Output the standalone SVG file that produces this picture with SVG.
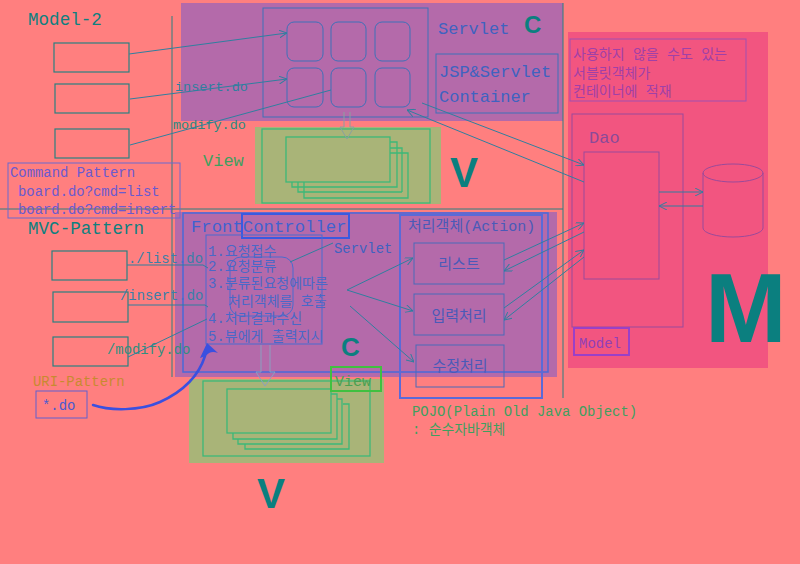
<svg xmlns="http://www.w3.org/2000/svg" width="800" height="564" viewBox="0 0 800 564">
<style>
.mono{font-family:"Liberation Mono","Noto Sans CJK KR",monospace}
.big{font-family:"Liberation Sans",Arial,sans-serif;font-weight:bold;fill:#0b7f7f}
.ln{stroke:#2f7f9f;stroke-width:1;fill:none}
.tl{stroke:#2a8080;stroke-width:1;fill:none}
.box{fill:none;stroke:#2a8080;stroke-width:1.2}
.blu{fill:#3f62c0}
.grn{fill:#3f9f5f}
.vg{fill:none;stroke:#3cb878;stroke-width:1.3}
</style>
<defs>
<marker id="ah" viewBox="0 0 10 10" refX="10" refY="5" markerWidth="8" markerHeight="8" orient="auto" markerUnits="userSpaceOnUse">
<path d="M0,0 L10,5 L0,10" fill="none" stroke="#2f7f9f" stroke-width="1.2"/>
</marker>
</defs>
<rect width="800" height="564" fill="#ff7f7f"/>
<!-- regions -->
<rect x="181" y="3" width="382" height="118" fill="#b46aaa"/>
<rect x="568" y="32" width="200" height="336" fill="#f25580"/>
<rect x="175" y="212" width="382" height="165" fill="#b46aaa"/>
<rect x="255" y="127" width="186" height="77" fill="#a9b478"/>
<rect x="189" y="379" width="195" height="84" fill="#a9b478"/>
<line x1="172" y1="16" x2="172" y2="377" class="tl"/>
<line x1="0" y1="209" x2="563" y2="209" class="tl"/>
<line x1="563" y1="3" x2="563" y2="398" class="tl"/>
<!-- titles -->
<text x="28" y="25" class="mono" font-size="17.6" fill="#0f7f7f">Model-2</text>
<text x="28" y="234" class="mono" font-size="17.6" fill="#0f7f7f">MVC-Pattern</text>
<!-- Model-2 left boxes -->
<g id="m2box1"><rect x="54" y="43" width="75" height="29" class="box"/></g>
<g id="m2box2"><rect x="55" y="84" width="74" height="29" class="box"/></g>
<g id="m2box3"><rect x="55" y="129" width="74" height="29" class="box"/></g>
<text x="175" y="91" class="mono" font-size="13.5" fill="#2f7f9f">insert.do</text>
<text x="173" y="129" class="mono" font-size="13.5" fill="#2a8a80">modify.do</text>
<!-- Command Pattern -->
<g id="cmdpattern">
<rect x="8" y="163" width="172" height="55" fill="none" stroke="#6a6ad0" stroke-width="1"/>
<text x="10" y="177" class="mono" font-size="13.9" fill="#6a5ad0">Command Pattern</text>
<text x="18" y="196" class="mono" font-size="13.9" fill="#6a5ad0">board.do?cmd=list</text>
<text x="18" y="214" class="mono" font-size="13.9" fill="#6a5ad0">board.do?cmd=insert</text>
</g>
<!-- Servlet container -->
<g id="servlets">
<rect x="263" y="8" width="165" height="109" fill="none" stroke="#3f70b8" stroke-width="1"/>
<rect x="287" y="22" width="36" height="39" rx="7" fill="none" stroke="#3f70b8"/>
<rect x="331" y="22" width="35" height="39" rx="7" fill="none" stroke="#3f70b8"/>
<rect x="375" y="22" width="35" height="39" rx="7" fill="none" stroke="#3f70b8"/>
<rect x="287" y="68" width="36" height="39" rx="7" fill="none" stroke="#3f70b8"/>
<rect x="331" y="68" width="35" height="39" rx="7" fill="none" stroke="#3f70b8"/>
<rect x="375" y="68" width="35" height="39" rx="7" fill="none" stroke="#3f70b8"/>
<text x="438" y="34" class="mono blu" font-size="17">Servlet</text>
<text x="524" y="33" class="big" font-size="24">C</text>
</g>
<g id="container">
<rect x="436" y="54" width="122" height="59" fill="none" stroke="#3f70b8"/>
<text x="439" y="77" class="mono blu" font-size="17">JSP&amp;Servlet</text>
<text x="439" y="102" class="mono blu" font-size="17">Container</text>
</g>
<!-- Top View -->
<g id="viewtop">
<rect x="262" y="129" width="168" height="74" class="vg"/>
<path d="M304,153 H408 V198 H304 Z M298,148 H402 V192 M298,148 V192 H402 M292,142 H397 V187 H292 Z" class="vg" fill="none"/>
<rect x="286" y="137" width="104" height="45" fill="#a9b478" stroke="#3cb878" stroke-width="1.3"/>
<text x="203" y="166" class="mono grn" font-size="17">View</text>
<text x="450" y="187" class="big" font-size="42">V</text>
</g>
<!-- Model region -->
<g id="note">
<rect x="570" y="39" width="176" height="62" fill="none" stroke="#a050b0"/>
<text x="573" y="59" class="mono" font-size="14" fill="#a040a8">사용하지 않을 수도 있는</text>
<text x="573" y="78" class="mono" font-size="14" fill="#a040a8">서블릿객체가</text>
<text x="573" y="96" class="mono" font-size="14" fill="#a040a8">컨테이너에 적재</text>
</g>
<g id="dao">
<rect x="572" y="114" width="111" height="213" fill="none" stroke="#9a4a9a"/>
<text x="589" y="143" class="mono" font-size="17" fill="#8a4a98">Dao</text>
<rect x="584" y="152" width="75" height="127" fill="none" stroke="#9a4a9a"/>
</g>
<g id="db">
<path d="M703,173 V228 A30,9 0 0 0 763,228 V173" fill="none" stroke="#9a4a9a"/>
<ellipse cx="733" cy="173" rx="30" ry="9" fill="none" stroke="#9a4a9a"/>
</g>
<g id="model">
<rect x="574" y="328" width="55" height="27" fill="none" stroke="#9a40c8" stroke-width="2"/>
<text x="579" y="348" class="mono" font-size="14" fill="#9040b8">Model</text>
</g>
<text x="705" y="342" class="big" font-size="98">M</text>
<!-- MVC left boxes -->
<g id="mvcbox1"><rect x="52" y="251" width="75" height="29" class="box"/></g>
<g id="mvcbox2"><rect x="53" y="292" width="75" height="30" class="box"/></g>
<g id="mvcbox3"><rect x="53" y="337" width="75" height="29" class="box"/></g>
<text x="128" y="263" class="mono" font-size="13.9" fill="#3a7fa8">./list.do</text>
<text x="120" y="300" class="mono" font-size="13.9" fill="#3a7fa8">/insert.do</text>
<text x="107" y="354" class="mono" font-size="13.9" fill="#2f8f7f">/modify.do</text>
<g id="uri">
<text x="33" y="386" class="mono" font-size="13.9" fill="#c88a30">URI-Pattern</text>
<rect x="36" y="391" width="51" height="27" fill="none" stroke="#6060d0"/>
<text x="42" y="410" class="mono" font-size="13.9" fill="#4a5ad0">*.do</text>
</g>
<!-- Front controller -->
<g id="frontcontroller">
<rect x="183" y="213" width="365" height="159" fill="none" stroke="#4a6ad8" stroke-width="1.5"/>
<rect x="242" y="214" width="107" height="24" fill="none" stroke="#3a5ae0" stroke-width="2"/>
<text x="191" y="232" class="mono" font-size="17.3" fill="#3f62d0">FrontController</text>
<rect x="206" y="235" width="116" height="109" fill="none" stroke="#4a6ad0"/>
<rect x="230" y="257" width="63" height="59" rx="11" fill="none" stroke="#4a6ad0"/>
<text x="334" y="253" class="mono" font-size="13.9" fill="#3f62c0">Servlet</text>
<g class="mono" font-size="14" fill="#4a68c8">
<text x="208" y="256">1.요청접수</text>
<text x="208" y="271">2.요청분류</text>
<text x="208" y="288">3.분류된요청에따른</text>
<text x="228" y="306">처리객체를 호출</text>
<text x="208" y="323">4.처리결과수신</text>
<text x="208" y="341">5.뷰에게 출력지시</text>
</g>
<text x="341" y="356" class="big" font-size="26">C</text>
</g>
<!-- Action -->
<g id="action">
<rect x="400" y="215" width="142" height="183" fill="none" stroke="#5a6ad8" stroke-width="2"/>
<text x="408" y="231" class="mono" font-size="15" fill="#4a5ab8">처리객체(Action)</text>
</g>
<g id="list"><rect x="414" y="243" width="90" height="41" fill="none" stroke="#4a6ab8"/><text x="459" y="269" class="mono" font-size="15" fill="#4a5ab8" text-anchor="middle">리스트</text></g>
<g id="insert"><rect x="414" y="294" width="90" height="41" fill="none" stroke="#4a6ab8"/><text x="459" y="321" class="mono" font-size="15" fill="#4a5ab8" text-anchor="middle">입력처리</text></g>
<g id="modify"><rect x="416" y="345" width="88" height="42" fill="none" stroke="#4a6ab8"/><text x="460" y="371" class="mono" font-size="15" fill="#4a5ab8" text-anchor="middle">수정처리</text></g>
<!-- bottom View -->
<g id="viewbottom">
<rect x="203" y="381" width="167" height="75" class="vg"/>
<path d="M245,444 V449 H349 V404 H343 M238,439 V444 H342 V399 H337 M233,433 V439 H337 V394 H331" class="vg"/>
<rect x="227" y="389" width="104" height="44" fill="#a9b478" stroke="#3cb878" stroke-width="1.3"/>
<rect x="331" y="367" width="50" height="24" fill="none" stroke="#40c040" stroke-width="2"/>
<text x="335" y="386" class="mono" font-size="15" fill="#4aa050">View</text>
<text x="257" y="508" class="big" font-size="42">V</text>
</g>
<text x="412" y="416" class="mono grn" font-size="13.9">POJO(Plain Old Java Object)</text>
<text x="412" y="434" class="mono grn" font-size="13.9">: 순수자바객체</text>
<!-- connectors -->
<g id="connectors">
<line x1="129" y1="54" x2="287" y2="33" class="ln" marker-end="url(#ah)"/>
<line x1="130" y1="99" x2="287" y2="79" class="ln" marker-end="url(#ah)"/>
<line x1="130" y1="145" x2="331" y2="90" class="ln"/>
<path d="M344,112 V127 H340 L347,139 L354,127 H350 V112" fill="none" stroke="#8aa0a0" stroke-width="1"/>
<line x1="422" y1="103" x2="584" y2="165" class="ln" marker-end="url(#ah)"/>
<line x1="584" y1="182" x2="407" y2="110" class="ln" marker-end="url(#ah)"/>
<line x1="659" y1="192" x2="703" y2="192" class="ln" stroke="#8a4a98" marker-end="url(#ah)"/>
<line x1="703" y1="206" x2="659" y2="206" class="ln" marker-end="url(#ah)"/>
<polyline points="127,265 203,265 208,268" class="ln"/>
<polyline points="128,305 205,305 208,307" class="ln"/>
<line x1="128" y1="357" x2="207" y2="319" class="ln"/>
<line x1="333" y1="243" x2="290" y2="262" class="ln" stroke="#4a6ad0"/>
<line x1="347" y1="290" x2="413" y2="258" class="ln" marker-end="url(#ah)"/>
<line x1="347" y1="290" x2="413" y2="311" class="ln" marker-end="url(#ah)"/>
<line x1="350" y1="306" x2="414" y2="362" class="ln" marker-end="url(#ah)"/>
<line x1="504" y1="260" x2="584" y2="223" class="ln" marker-end="url(#ah)"/>
<line x1="584" y1="232" x2="504" y2="271" class="ln" marker-end="url(#ah)"/>
<line x1="504" y1="308" x2="584" y2="250" class="ln" marker-end="url(#ah)"/>
<line x1="584" y1="257" x2="504" y2="320" class="ln" marker-end="url(#ah)"/>
<path d="M261,345 V372 H256 L265,386 L275,372 H270 V345" fill="none" stroke="#8aa0c0" stroke-width="1"/>
<path d="M93,405 C110,411 140,411 160,402 C182,392 198,378 205,356" fill="none" stroke="#3a50e0" stroke-width="2.5" stroke-linecap="round"/>
<path d="M200,358 L207,343 L218,353 Q210,350 206,356 Z" fill="#3a50e0"/>
</g>
</svg>
